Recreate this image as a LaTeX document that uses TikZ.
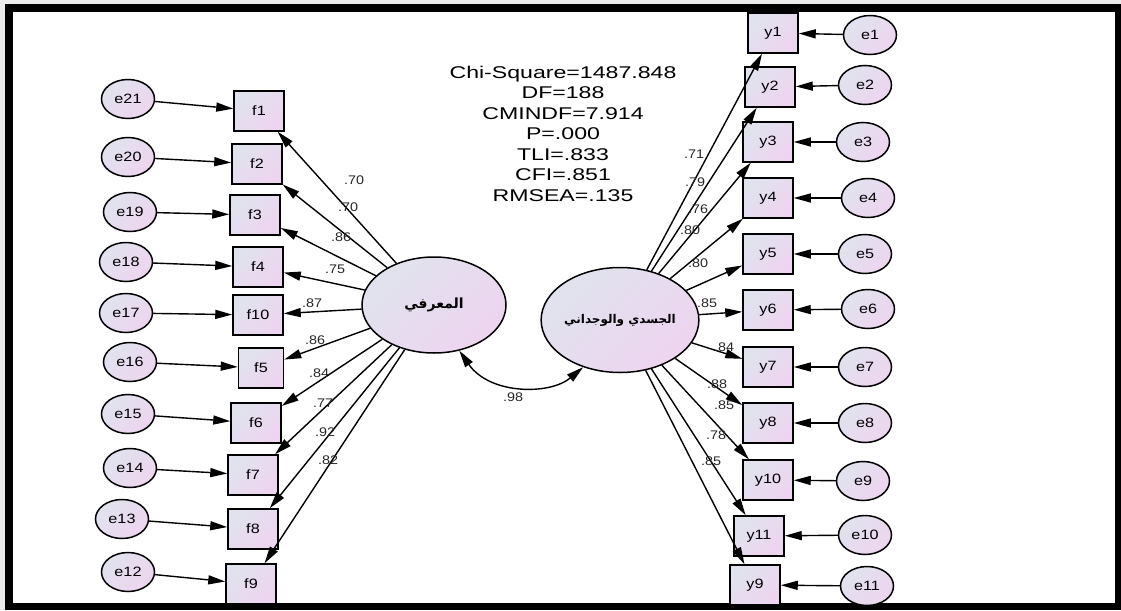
\documentclass[tikz,border=0pt]{standalone}
\usepackage{graphicx}
\usepackage{fontspec}
\setmainfont{Liberation Sans}
\newfontfamily\arabicfont[Script=Arabic]{DejaVu Sans}
\TeXXeTstate=1
\usetikzlibrary{shapes.geometric,arrows.meta}
\definecolor{shA}{RGB}{224,227,238}
\definecolor{shB}{RGB}{238,212,240}
\definecolor{ldcol}{RGB}{40,40,40}
\newcommand\wlab[1]{\scalebox{1.2}[1]{#1}}
\newcommand\wld[1]{\scalebox{1.15}[1]{#1}}
\tikzset{
  obs/.style={rectangle, draw, line width=1.5pt, minimum width=50pt, minimum height=40pt, inner sep=0pt,
    top color=shA, bottom color=shB, shading angle=45, font=\fontsize{13.5}{15}\selectfont},
  err/.style={ellipse, draw, line width=1.5pt, minimum width=53pt, minimum height=39pt, inner sep=0pt,
    top color=shA, bottom color=shB, shading angle=45, font=\fontsize{13.5}{15}\selectfont},
  lat/.style={ellipse, draw, line width=1.5pt, inner sep=0pt,
    top color=shA, bottom color=shB, shading angle=45},
  arr/.style={-{Triangle[length=17pt,width=9pt]}, line width=1.4pt},
  cov/.style={{Triangle[length=17pt,width=9pt]}-{Triangle[length=17pt,width=9pt]}, line width=1.4pt},
  ld/.style={inner sep=0pt, text=ldcol, font=\fontsize{12.5}{13}\selectfont},
}
\begin{document}
\begin{tikzpicture}[x=1pt,y=-1pt]
\useasboundingbox (0,0) rectangle (1121,610);
% frame
\fill[black!8] (0,0) rectangle (1121,610);
\fill[black] (5,4) rectangle (1121,610);
\fill[white] (13,12) rectangle (1115,603);

% fit statistics
\node[align=center, inner sep=0pt] (fit) at (563,135.5)
  {\scalebox{1.36}[1]{\fontsize{17}{20.5}\selectfont
   \begin{tabular}{@{}c@{}}Chi-Square=1487.848\\ DF=188\\ CMINDF=7.914\\ P=.000\\ TLI=.833\\ CFI=.851\\ RMSEA=.135\end{tabular}}};

% latent variables
\node[lat, minimum width=144pt, minimum height=96pt] (L1) at (434,305)
  {\fontsize{14}{16}\selectfont\arabicfont\bfseries\beginR المعرفي\endR};
\node[lat, minimum width=143pt, minimum height=105pt] (L2) at (620,320)
  {\fontsize{12}{14}\selectfont\arabicfont\bfseries\beginR الجسدي والوجداني\endR};

% left observed
\node[obs] (f1)  at (259,111) {\wlab{f1}};
\node[obs] (f2)  at (257,164) {\wlab{f2}};
\node[obs] (f3)  at (255,215) {\wlab{f3}};
\node[obs] (f4)  at (258,267) {\wlab{f4}};
\node[obs] (f10) at (258,315) {\wlab{f10}};
\node[obs, minimum width=45pt] (f5)  at (261,368) {\wlab{f5}};
\node[obs] (f6)  at (256,423) {\wlab{f6}};
\node[obs] (f7)  at (253,475) {\wlab{f7}};
\node[obs] (f8)  at (253,529) {\wlab{f8}};
\node[obs] (f9)  at (251,584) {\wlab{f9}};

% left errors
\node[err] (e21) at (128,99)  {\wlab{e21}};
\node[err] (e20) at (128,157) {\wlab{e20}};
\node[err] (e19) at (130,212) {\wlab{e19}};
\node[err] (e18) at (126,262) {\wlab{e18}};
\node[err] (e17) at (126,313) {\wlab{e17}};
\node[err] (e16) at (130,362) {\wlab{e16}};
\node[err] (e15) at (128,414) {\wlab{e15}};
\node[err] (e14) at (130,468) {\wlab{e14}};
\node[err] (e13) at (122,519) {\wlab{e13}};
\node[err] (e12) at (128,572) {\wlab{e12}};

% right observed
\node[obs] (y1)  at (773,33)  {\wlab{y1}};
\node[obs] (y2)  at (770,87)  {\wlab{y2}};
\node[obs] (y3)  at (768,142) {\wlab{y3}};
\node[obs] (y4)  at (768,198) {\wlab{y4}};
\node[obs] (y5)  at (768,254) {\wlab{y5}};
\node[obs] (y6)  at (768,310) {\wlab{y6}};
\node[obs] (y7)  at (768,367) {\wlab{y7}};
\node[obs] (y8)  at (768,423) {\wlab{y8}};
\node[obs] (y10) at (768,480) {\wlab{y10}};
\node[obs] (y11) at (759,536) {\wlab{y11}};
\node[obs] (y9)  at (755,585) {\wlab{y9}};

% right errors
\node[err] (e1)  at (870,35)  {\wlab{e1}};
\node[err] (e2)  at (865,85)  {\wlab{e2}};
\node[err] (e3)  at (863,142) {\wlab{e3}};
\node[err] (e4)  at (868,198) {\wlab{e4}};
\node[err] (e5)  at (865,254) {\wlab{e5}};
\node[err] (e6)  at (868,309) {\wlab{e6}};
\node[err] (e7)  at (865,367) {\wlab{e7}};
\node[err] (e8)  at (865,423) {\wlab{e8}};
\node[err] (e9)  at (863,481) {\wlab{e9}};
\node[err] (e10) at (865,535) {\wlab{e10}};
\node[err] (e11) at (867,586) {\wlab{e11}};

% error arrows left
\foreach \e/\f in {e21/f1,e20/f2,e19/f3,e18/f4,e17/f10,e16/f5,e15/f6,e14/f7,e13/f8,e12/f9}
  \draw[arr] (\e) -- (\f);
% error arrows right
\foreach \e/\y in {e1/y1,e2/y2,e3/y3,e4/y4,e5/y5,e6/y6,e7/y7,e8/y8,e9/y10,e10/y11,e11/y9}
  \draw[arr] (\e) -- (\y);

% loadings
\foreach \f in {f1,f2,f3,f4,f10,f5,f6,f7,f8,f9}
  \draw[arr] (L1) -- (\f);
\foreach \y in {y1,y2,y3,y4,y5,y6,y7,y8,y10,y11,y9}
  \draw[arr] (L2) -- (\y);

% covariance
\draw[cov] (L1.-61) .. controls (490,395) and (550,395) .. (L2.-128);
\node[ld] (r98) at (513,397) {\wld{.98}};

% loading labels left
\node[ld] (lf1)  at (354,180) {\wld{.70}};
\node[ld] (lf2)  at (348,207) {\wld{.70}};
\node[ld] (lf3)  at (341,237) {\wld{.86}};
\node[ld] (lf4)  at (335,269) {\wld{.75}};
\node[ld] (lf10) at (312,303) {\wld{.87}};
\node[ld] (lf5)  at (315,340) {\wld{.86}};
\node[ld] (lf6)  at (319,373) {\wld{.84}};
\node[ld] (lf7)  at (323,403) {\wld{.77}};
\node[ld] (lf8)  at (325,432) {\wld{.92}};
\node[ld] (lf9)  at (328,460) {\wld{.82}};

% loading labels right
\node[ld] (ly1)  at (694,154) {\wld{.71}};
\node[ld] (ly2)  at (695,182) {\wld{.79}};
\node[ld] (ly3)  at (698,209) {\wld{.76}};
\node[ld] (ly4)  at (690,230) {\wld{.80}};
\node[ld] (ly5)  at (698,263) {\wld{.80}};
\node[ld] (ly6)  at (707,303) {\wld{.85}};
\node[ld] (ly7)  at (724,347) {\wld{.84}};
\node[ld] (ly8)  at (717,384) {\wld{.88}};
\node[ld] (ly10) at (724,405) {\wld{.85}};
\node[ld] (ly11) at (716,435) {\wld{.78}};
\node[ld] (ly9)  at (711,461) {\wld{.85}};
\end{tikzpicture}
\end{document}
